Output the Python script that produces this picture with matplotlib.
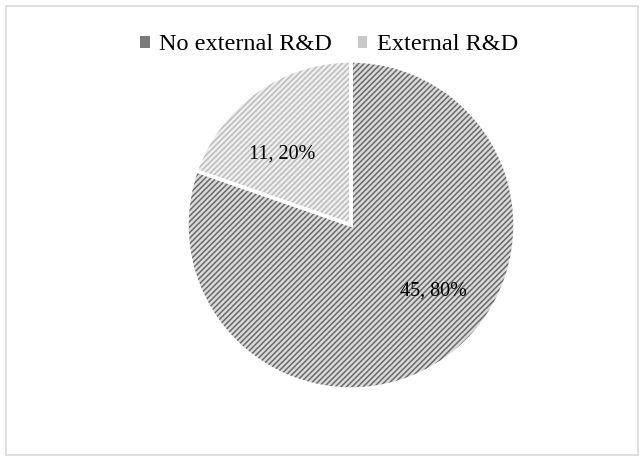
import matplotlib
matplotlib.use("Agg")
import matplotlib.pyplot as plt
from matplotlib.patches import Rectangle

labels = ["No external R&D", "External R&D"]
counts = [45, 11]
shares = [80, 20]

face_colors = ["#dadada", "#eeeeee"]
hatch_colors = ["#6a6a6a", "#bcbcbc"]
legend_colors = ["#7a7a7a", "#c8c8c8"]

plt.rcParams['font.family'] = ['Liberation Serif', 'DejaVu Serif']
plt.rcParams['hatch.linewidth'] = 1.1

W, H = 644, 457
fig = plt.figure(figsize=(W / 100, H / 100), dpi=100)

# light frame round the chart area
fig.patches.append(Rectangle((6 / W, 2 / H), 632 / W, 449 / H, transform=fig.transFigure,
                             fill=False, edgecolor="#d9d9d9", linewidth=1.2))

cx, cy, r = 351, 225, 164
ax = fig.add_axes([(cx - r) / W, (H - cy - r) / H, 2 * r / W, 2 * r / H])

# hatched fill, hatch colour comes from the wedge edge
wedges, _ = ax.pie(counts, startangle=90, counterclock=False, radius=1,
                   colors=face_colors, wedgeprops=dict(linewidth=0))
for w, hc in zip(wedges, hatch_colors):
    w.set_hatch("//////")
    w.set_edgecolor(hc)
    w.set_linewidth(0)

# white separators on top
ax.pie(counts, startangle=90, counterclock=False, radius=1,
       colors=["none", "none"], wedgeprops=dict(linewidth=2.5, edgecolor="white"))

ax.set_xlim(-1, 1)
ax.set_ylim(-1, 1)
ax.set_aspect("equal")

ax.text(0.50, -0.40, f"{counts[0]}, {shares[0]}%", ha="center", va="center", fontsize=14.5)
ax.text(-0.42, 0.43, f"{counts[1]}, {shares[1]}%", ha="center", va="center", fontsize=14.5)

handles = [Rectangle((0, 0), 1, 1, facecolor=c, edgecolor="none") for c in legend_colors]
fig.legend(handles, labels, loc="center", bbox_to_anchor=(0.511, 1 - 45 / H), ncol=2,
           frameon=False, fontsize=17.5, handlelength=0.4, handleheight=0.4,
           handletextpad=0.4, columnspacing=1.05)

fig.savefig("out.png", dpi=100)
